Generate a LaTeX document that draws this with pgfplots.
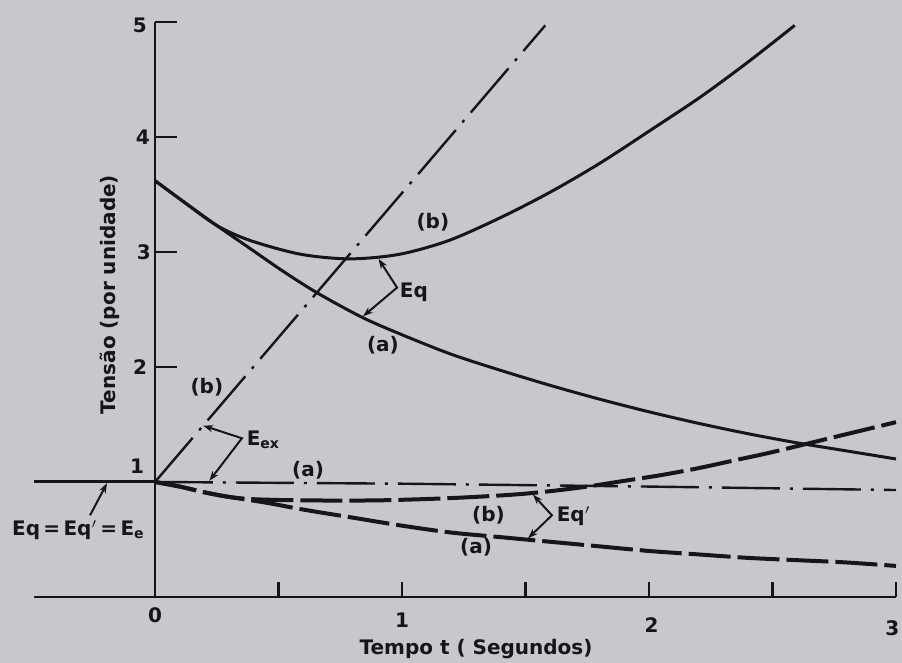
\documentclass[border=0pt]{standalone}
\usepackage{fontspec}
\setmainfont{DejaVu Sans}
\usepackage{pgfplots}
\pgfplotsset{compat=1.18}
\usetikzlibrary{arrows.meta}
\definecolor{paper}{RGB}{199,200,205}
\definecolor{ink}{RGB}{22,22,24}

\begin{document}
\begin{tikzpicture}[font=\bfseries\fontsize{10}{12}\selectfont, every node/.style={text=ink}]
\fill[paper] (0,0) rectangle (451pt,331.5pt);
\begin{axis}[
  hide axis, scale only axis, width=451pt, height=331.5pt,
  xmin=-0.6275, xmax=3.0243, ymin=-0.574, ymax=5.191,
  clip=false,
]
% axes
\draw[ink, line width=1.4pt] (axis cs:-0.49,0) -- (axis cs:3.0,0);
\draw[ink, line width=1.4pt] (axis cs:0,0) -- (axis cs:0,5);
\pgfplotsinvokeforeach{0.5,1,1.5,2,2.5,3}{
  \draw[ink, line width=1.2pt] (axis cs:#1,0) -- (axis cs:#1,0.13);}
\pgfplotsinvokeforeach{2,3,4,5}{
  \draw[ink, line width=1.2pt] (axis cs:0,#1) -- (axis cs:0.09,#1);}
% tick labels
\node at (axis cs:-0.061,4.97) {5};
\node at (axis cs:-0.049,4.0) {4};
\node at (axis cs:-0.045,3.0) {3};
\node at (axis cs:-0.06,2.0) {2};
\node at (axis cs:-0.073,1.14) {1};
\node at (axis cs:0,-0.16) {0};
\node at (axis cs:1.0,-0.2) {1};
\node at (axis cs:2.01,-0.24) {2};
\node at (axis cs:2.985,-0.27) {3};
\node at (axis cs:1.30,-0.45) {Tempo t ( Segundos)};
\node[rotate=90] at (axis cs:-0.182,2.63) {Tensão (por unidade)};

% pre-fault level
\addplot[ink, line width=1.5pt] coordinates {(-0.49,1) (0,1)};

% Eq, case (a)
\addplot[ink, line width=1.5pt, smooth] coordinates {
 (0,3.62) (0.12,3.43) (0.25,3.23) (0.385,3.03) (0.52,2.83) (0.66,2.64)
 (0.84,2.43) (1.0,2.28) (1.2,2.11) (1.4,1.97) (1.6,1.84) (1.8,1.72)
 (2.0,1.61) (2.2,1.51) (2.4,1.42) (2.6,1.34) (2.8,1.27) (3.0,1.20)};
% Eq, case (b)
\addplot[ink, line width=1.5pt, smooth] coordinates {
 (0,3.62) (0.12,3.43) (0.25,3.23) (0.385,3.10) (0.59,2.98) (0.79,2.94)
 (0.99,2.98) (1.19,3.10) (1.4,3.30) (1.6,3.52) (1.8,3.77) (2.0,4.05)
 (2.21,4.35) (2.4,4.65) (2.59,4.97)};

% Eex, case (b)
\addplot[ink, line width=1.2pt, dash pattern=on 29pt off 5pt on 1.5pt off 5pt]
 coordinates {(0,1) (1.58,4.97)};
% Eex, case (a)
\addplot[ink, line width=1.2pt, dash pattern=on 29pt off 5pt on 1.5pt off 5pt]
 coordinates {(0,1) (1,0.985) (2,0.96) (3,0.93)};

% Eq', case (b)
\addplot[ink, line width=2pt, smooth, dash pattern=on 21pt off 3.5pt] coordinates {
 (0,1) (0.1,0.96) (0.2,0.91) (0.3,0.87) (0.4,0.85) (0.6,0.84) (0.9,0.84)
 (1.2,0.86) (1.45,0.89) (1.6,0.92) (1.75,0.96) (1.9,1.01) (2.05,1.06)
 (2.2,1.12) (2.35,1.19) (2.5,1.26) (2.75,1.39) (3.0,1.52)};
% Eq', case (a)
\addplot[ink, line width=2pt, smooth, dash pattern=on 21pt off 3.5pt] coordinates {
 (0,1) (0.1,0.96) (0.2,0.91) (0.3,0.87) (0.45,0.82) (0.6,0.76) (0.8,0.69)
 (1.0,0.62) (1.2,0.56) (1.4,0.52) (1.6,0.48) (1.8,0.44) (2.0,0.40)
 (2.2,0.37) (2.4,0.34) (2.6,0.32) (2.8,0.30) (3.0,0.27)};

% annotations
\node at (axis cs:0.21,1.82) {(b)};
\draw[ink, line width=1pt, {Stealth[length=5pt,width=3.5pt]}-{Stealth[length=5pt,width=3.5pt]}]
 (axis cs:0.195,1.49) -- (axis cs:0.352,1.38) -- (axis cs:0.22,1.01);
\node[anchor=west, inner sep=0pt] at (axis cs:0.37,1.37) {E$_{\mathbf{ex}}$};
\node at (axis cs:0.62,1.10) {(a)};

\draw[ink, line width=1pt, -{Stealth[length=5pt,width=3.5pt]}]
 (axis cs:-0.263,0.71) -- (axis cs:-0.194,0.99);
\node[anchor=west, inner sep=0pt] at (axis cs:-0.58,0.58) {Eq\,=\,Eq$'$\,=\,E$_{\mathbf{e}}$};

\node at (axis cs:1.125,3.26) {(b)};
\draw[ink, line width=1pt, {Stealth[length=5pt,width=3.5pt]}-{Stealth[length=5pt,width=3.5pt]}]
 (axis cs:0.905,2.94) -- (axis cs:0.98,2.69) -- (axis cs:0.842,2.44);
\node[anchor=west, inner sep=0pt] at (axis cs:0.99,2.65) {Eq};
\node at (axis cs:0.923,2.19) {(a)};

\node at (axis cs:1.35,0.71) {(b)};
\node at (axis cs:1.30,0.43) {(a)};
\draw[ink, line width=1pt, {Stealth[length=5pt,width=3.5pt]}-{Stealth[length=5pt,width=3.5pt]}]
 (axis cs:1.53,0.89) -- (axis cs:1.607,0.71) -- (axis cs:1.51,0.51);
\node[anchor=west, inner sep=0pt] at (axis cs:1.625,0.70) {Eq$'$};
\end{axis}
\pgfresetboundingbox
\useasboundingbox (0,0) rectangle (451pt,331.5pt);
\end{tikzpicture}
\end{document}
